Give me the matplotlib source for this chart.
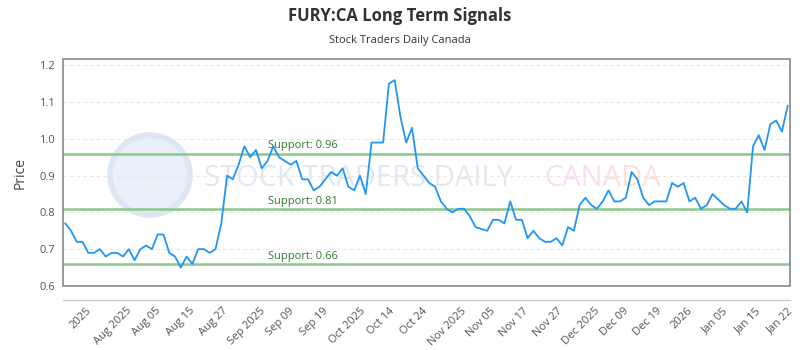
import matplotlib.pyplot as plt
import matplotlib.patches as patches
import matplotlib.transforms as mtransforms
import numpy as np

# price series (one value per trading session)
prices = [
    0.77, 0.75, 0.72, 0.72, 0.69, 0.69, 0.70, 0.68, 0.69, 0.69, 0.68, 0.70,
    0.67, 0.70, 0.71, 0.70, 0.74, 0.74, 0.69, 0.68, 0.65, 0.68, 0.66, 0.70,
    0.70, 0.69, 0.70, 0.77, 0.90, 0.89, 0.93, 0.98, 0.95,
    0.97, 0.92, 0.94, 0.98, 0.95, 0.94, 0.93, 0.94, 0.89, 0.89, 0.86, 0.87,
    0.89, 0.91, 0.90, 0.92, 0.87, 0.86, 0.90, 0.85, 0.99, 0.99, 0.99, 1.15,
    1.16, 1.06, 0.99, 1.03, 0.92, 0.90, 0.88,
    0.87, 0.83, 0.81, 0.80, 0.81, 0.81, 0.79, 0.76, 0.755, 0.75, 0.78, 0.78,
    0.77, 0.83, 0.78, 0.78, 0.73, 0.75, 0.73, 0.72, 0.72, 0.73, 0.71, 0.76,
    0.75, 0.82, 0.84, 0.82, 0.81, 0.83, 0.86,
    0.83, 0.83, 0.84, 0.91, 0.89, 0.84, 0.82, 0.83, 0.83, 0.83, 0.88, 0.87,
    0.88, 0.83, 0.84, 0.81, 0.82, 0.85, 0.835, 0.82, 0.81, 0.81, 0.83, 0.80,
    0.98, 1.01, 0.97, 1.04, 1.05, 1.02, 1.09,
]

tick_labels = ['2025', 'Aug 2025', 'Aug 05', 'Aug 15', 'Aug 27', 'Sep 2025',
               'Sep 09', 'Sep 19', 'Oct 2025', 'Oct 14', 'Oct 24', 'Nov 2025',
               'Nov 05', 'Nov 17', 'Nov 27', 'Dec 2025', 'Dec 09', 'Dec 19',
               '2026', 'Jan 05', 'Jan 15', 'Jan 22']

support_levels = [0.96, 0.81, 0.66]

y_ticks = [0.6, 0.7, 0.8, 0.9, 1.0, 1.1, 1.2]

plt.rcParams['font.family'] = ['Open Sans', 'DejaVu Sans']

fig = plt.figure(figsize=(8, 3.5), dpi=100)
ax = fig.add_axes([0.079, 0.183, 0.9085, 0.648])

x = np.arange(len(prices))

# watermark (behind everything inside the axes), logo placed in pixels
px = mtransforms.IdentityTransform()
logo = patches.Circle((150, 175), 40, transform=px,
                      facecolor='#eaf0f9', edgecolor='#dde6f3', lw=4,
                      zorder=0)
ax.add_artist(logo)
ax.text(0.255, 0.49, 'STOCK TRADERS DAILY', transform=fig.transFigure,
        fontsize=21, color='#e2e8f2', ha='left', va='center', zorder=0)
ax.text(0.68, 0.49, 'CANADA', transform=fig.transFigure,
        fontsize=21, color='#fde0e0', ha='left', va='center', zorder=0)

for lvl in support_levels:
    ax.axhline(lvl, color='#8cc88c', lw=1.8, zorder=2)
    ax.text(35.1, lvl + 0.006, 'Support: %.2f' % lvl, color='#2e7d32',
            fontsize=8, ha='left', va='bottom', zorder=3)

ax.plot(x, prices, color='#2196f3', lw=1.3, zorder=4)

ax.set_xlim(-0.35, len(prices) - 0.6)
ax.set_ylim(0.6, 1.217)
ax.set_yticks(y_ticks)
ax.set_yticklabels(['%.1f' % v for v in y_ticks])
ax.yaxis.grid(True, color='#e6e6e6', ls=(0, (3, 3)), lw=0.8)

# ticks evenly spaced along the axis
tick_pos = list(2.6 + 5.78 * np.arange(len(tick_labels) - 1)) + [123.7]
ax.set_xticks(tick_pos)
ax.set_xticklabels(tick_labels)

ax.tick_params(axis='both', length=0, labelsize=8, colors='#555555')
ax.tick_params(axis='y', pad=6)
ax.tick_params(axis='x', pad=4, labelrotation=45)
for lab in ax.get_xticklabels():
    lab.set_horizontalalignment('right')
    lab.set_rotation_mode('anchor')

for s in ['top', 'right', 'left']:
    ax.spines[s].set_visible(False)
ax.spines['bottom'].set_position(('outward', 10))
ax.spines['bottom'].set_color('#cccccc')
ax.spines['bottom'].set_linewidth(1)

frame = patches.Rectangle((0, 0), 1, 1, transform=ax.transAxes, fill=False,
                          edgecolor='#888888', lw=1.2, zorder=5, clip_on=False)
ax.add_patch(frame)

ax.set_ylabel('Price', fontsize=10, color='#444444', labelpad=8)

fig.text(0.5, 0.955, 'FURY:CA Long Term Signals', ha='center', va='center',
         fontsize=12, fontweight='bold', color='#333333')
fig.text(0.5, 0.883, 'Stock Traders Daily Canada', ha='center', va='center',
         fontsize=8, color='#333333')

fig.savefig('out.png', dpi=100)
